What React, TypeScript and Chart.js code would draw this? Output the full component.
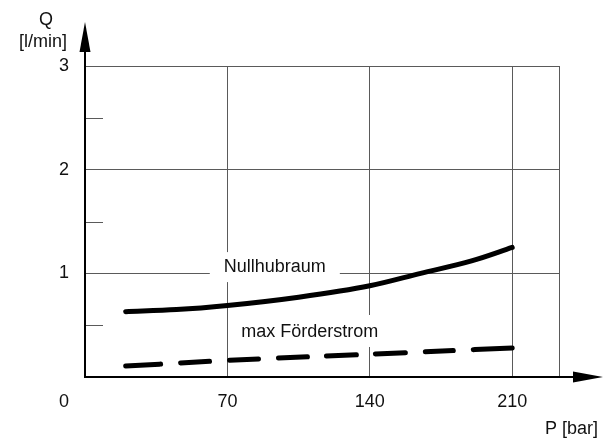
import React, { useEffect, useRef } from 'react';
import { Chart, registerables } from 'chart.js';

Chart.register(...registerables);

// ---- data ----
const nullhubX = [20, 45, 70, 105, 140, 165, 190, 210];
const nullhubY = [0.63, 0.65, 0.69, 0.77, 0.88, 1.0, 1.12, 1.25];
const foerderX = [20, 70, 140, 210];
const foerderY = [0.105, 0.16, 0.22, 0.28];

const xGridValues = [0, 70, 140, 210, 233];
const xTickLabels = ['70', '140', '210'];
const yMinorTicks = [0.5, 1.5, 2.5];
const originLabel = '0';
const yTitleLines = ['Q', '[l/min]'];
const xTitle = 'P [bar]';
const curveLabels = ['Nullhubraum', 'max Förderstrom'];

// ---- style ----
const FAMILY = '"Liberation Sans", Arial, Helvetica, sans-serif';
const FONT_SIZE = 18;
const FONT = `${FONT_SIZE}px ${FAMILY}`;
const GRID = '#5a5a5a';
const INK = '#111';
const DASH = [35, 20, 29, 20, 29, 20, 29, 19, 30, 19, 30, 20, 28, 20, 40, 200];

// label anchors in data units (center x, baseline y) and box padding
const labelAnchors = [
  { x: 93.3, y: 1.012, padX: 14, boxH: 30, boxShift: 5 },
  { x: 110.5, y: 0.386, padX: 8, boxH: 32, boxShift: 6 },
];

const decorPlugin = {
  id: 'decor',
  beforeDatasetsDraw(chart: any) {
    const { ctx, chartArea, scales } = chart;
    const xs = scales.x;
    const ys = scales.y;
    ctx.save();
    ctx.strokeStyle = GRID;
    ctx.lineWidth = 1;
    yMinorTicks.forEach((v) => {
      const py = Math.round(ys.getPixelForValue(v)) + 0.5;
      ctx.beginPath();
      ctx.moveTo(chartArea.left, py);
      ctx.lineTo(chartArea.left + 18, py);
      ctx.stroke();
    });
    ctx.font = FONT;
    ctx.textAlign = 'center';
    ctx.textBaseline = 'alphabetic';
    curveLabels.forEach((txt, i) => {
      const a = labelAnchors[i];
      const cx = xs.getPixelForValue(a.x);
      const by = ys.getPixelForValue(a.y);
      const w = ctx.measureText(txt).width + a.padX * 2;
      ctx.fillStyle = '#fff';
      ctx.fillRect(cx - w / 2, by - a.boxShift - a.boxH / 2, w, a.boxH);
      ctx.fillStyle = INK;
      ctx.fillText(txt, cx, by);
    });
    ctx.restore();
  },
  afterDraw(chart: any) {
    const { ctx, chartArea, scales } = chart;
    const xs = scales.x;
    const ys = scales.y;
    const x0 = xs.getPixelForValue(0);
    const y0 = ys.getPixelForValue(0);
    ctx.save();
    ctx.strokeStyle = '#000';
    ctx.fillStyle = '#000';
    ctx.lineWidth = 2;
    const yTip = chartArea.top - 44;
    ctx.beginPath();
    ctx.moveTo(x0, y0 + 1);
    ctx.lineTo(x0, yTip + 10);
    ctx.stroke();
    ctx.beginPath();
    ctx.moveTo(x0, yTip);
    ctx.lineTo(x0 - 5.5, yTip + 30);
    ctx.lineTo(x0 + 5.5, yTip + 30);
    ctx.closePath();
    ctx.fill();
    const xTip = chartArea.right + 44;
    ctx.beginPath();
    ctx.moveTo(x0 - 1, y0);
    ctx.lineTo(xTip - 10, y0);
    ctx.stroke();
    ctx.beginPath();
    ctx.moveTo(xTip, y0);
    ctx.lineTo(xTip - 30, y0 - 5.5);
    ctx.lineTo(xTip - 30, y0 + 5.5);
    ctx.closePath();
    ctx.fill();
    ctx.font = FONT;
    ctx.fillStyle = INK;
    ctx.textBaseline = 'alphabetic';
    ctx.textAlign = 'center';
    ctx.fillText(yTitleLines[0], chartArea.left - 39, chartArea.top - 41);
    ctx.fillText(yTitleLines[1], chartArea.left - 42, chartArea.top - 19);
    ctx.fillText(originLabel, chartArea.left - 21, chartArea.bottom + 30);
    ctx.textAlign = 'right';
    ctx.fillText(xTitle, chartArea.right + 39, chartArea.bottom + 57);
    ctx.restore();
  },
};

export default function App() {
  const ref = useRef<HTMLCanvasElement | null>(null);
  useEffect(() => {
    if (!ref.current) return;
    const chart = new Chart(ref.current, {
      type: 'line',
      data: {
        datasets: [
          {
            label: curveLabels[0],
            data: nullhubX.map((v, i) => ({ x: v, y: nullhubY[i] })),
            borderColor: '#000',
            borderWidth: 5,
            pointRadius: 0,
            cubicInterpolationMode: 'monotone',
            borderCapStyle: 'round',
            borderJoinStyle: 'round',
            fill: false,
          },
          {
            label: curveLabels[1],
            data: foerderX.map((v, i) => ({ x: v, y: foerderY[i] })),
            borderColor: '#000',
            borderWidth: 5,
            pointRadius: 0,
            cubicInterpolationMode: 'monotone',
            borderCapStyle: 'round',
            borderDash: DASH,
            fill: false,
          },
        ],
      },
      options: {
        responsive: false,
        animation: false,
        devicePixelRatio: 1,
        layout: { padding: { top: 66, right: 52, left: 0, bottom: 0 } },
        plugins: { legend: { display: false }, tooltip: { enabled: false } },
        scales: {
          x: {
            type: 'linear',
            min: 0,
            max: 233,
            afterBuildTicks: (s: any) => {
              s.ticks = xGridValues.map((v) => ({ value: v }));
            },
            afterFit: (s: any) => {
              s.height = 62;
            },
            grid: { color: GRID, lineWidth: 1, drawTicks: false },
            border: { display: false },
            ticks: {
              padding: 14,
              autoSkip: false,
              maxRotation: 0,
              color: INK,
              font: { family: FAMILY, size: FONT_SIZE },
              callback: (v: any) => (xTickLabels.includes(String(v)) ? String(v) : ''),
            },
          },
          y: {
            type: 'linear',
            min: 0,
            max: 3,
            afterFit: (s: any) => {
              s.width = 85;
            },
            grid: { color: GRID, lineWidth: 1, drawTicks: false },
            border: { display: false },
            ticks: {
              stepSize: 1,
              padding: 16,
              color: INK,
              font: { family: FAMILY, size: FONT_SIZE },
              callback: (v: any) => (v === 0 ? '' : String(v)),
            },
          },
        },
      } as any,
      plugins: [decorPlugin],
    });
    return () => chart.destroy();
  }, []);
  return (
    <div style={{ position: 'fixed', left: 0, top: 0, width: 611, height: 439, background: '#fff' }}>
      <canvas ref={ref} width={611} height={439} style={{ display: 'block' }} />
    </div>
  );
}
